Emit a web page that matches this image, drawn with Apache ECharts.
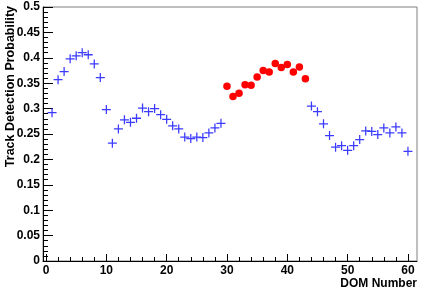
<!DOCTYPE html>
<html>
<head>
<meta charset="utf-8">
<script src="https://cdn.jsdelivr.net/npm/echarts@6/dist/echarts.min.js"></script>
<style>html,body{margin:0;padding:0;background:#fff}#c{width:424px;height:293px}</style>
</head>
<body>
<div id="c"></div>
<script>
// DOM numbers and track detection probabilities
var blueDomsA = [1,2,3,4,5,6,7,8,9,10,11,12,13,14,15,16,17,18,19,20,21,22,23,24,25,26,27,28,29];
var blueValsA = [0.292,0.357,0.373,0.398,0.404,0.410,0.406,0.388,0.361,0.298,0.232,0.260,0.278,0.273,0.281,0.301,0.294,0.300,0.288,0.279,0.266,0.260,0.244,0.241,0.244,0.243,0.252,0.262,0.271];
var redDoms = [30,31,32,33,34,35,36,37,38,39,40,41,42,43];
var redVals = [0.344,0.324,0.330,0.347,0.346,0.362,0.375,0.372,0.389,0.381,0.387,0.372,0.382,0.359];
var blueDomsB = [44,45,46,47,48,49,50,51,52,53,54,55,56,57,58,59,60];
var blueValsB = [0.305,0.294,0.270,0.247,0.224,0.227,0.218,0.227,0.239,0.256,0.255,0.249,0.262,0.252,0.264,0.252,0.216];
var xMajorTicks = [0,10,20,30,40,50,60];
var xMinorTicks = [2,4,6,8,12,14,16,18,22,24,26,28,32,34,36,38,42,44,46,48,52,54,56,58];
var xTitle = 'DOM Number';
var yTitle = 'Track Detection Probability';

function pairs(xs, ys){ return xs.map(function(x,i){ return [x, ys[i]]; }); }
var blueData = pairs(blueDomsA, blueValsA).concat(pairs(blueDomsB, blueValsB));
var redData = pairs(redDoms, redVals);

var FONT = '"Liberation Sans", Arial, Helvetica, sans-serif';
var chart = echarts.init(document.getElementById('c'), null, {renderer: 'canvas'});
var crossPath = 'path://M4.3,0h1.4v4.3h4.3v1.4h-4.3v4.3h-1.4v-4.3h-4.3v-1.4h4.3z';
chart.setOption({
  animation: false,
  grid: {left: 43, right: 7, top: 7, bottom: 32, show: true, borderColor: '#808080', borderWidth: 1, containLabel: false},
  xAxis: [{
    type: 'value', min: -0.5, max: 61.5, position: 'bottom',
    axisLine: {show: true, onZero: false, lineStyle: {color: '#000', width: 1}},
    axisTick: {show: true, inside: true, length: 7, customValues: xMajorTicks, lineStyle: {color: '#000'}},
    axisLabel: {show: true, customValues: xMajorTicks, color: '#000', fontFamily: FONT, fontWeight: 'bold', fontSize: 12, margin: 4},
    splitLine: {show: false}
  }, {
    type: 'value', min: -0.5, max: 61.5, position: 'bottom', offset: 0,
    axisLine: {show: false},
    axisTick: {show: true, inside: true, length: 4, customValues: xMinorTicks, lineStyle: {color: '#000'}},
    axisLabel: {show: false},
    splitLine: {show: false}
  }],
  yAxis: {
    type: 'value', min: 0, max: 0.5, interval: 0.05,
    axisLine: {show: true, onZero: false, lineStyle: {color: '#000', width: 1}},
    axisTick: {show: true, inside: true, length: 10, lineStyle: {color: '#000'}},
    minorTick: {show: true, splitNumber: 5, length: 5, lineStyle: {color: '#000'}},
    axisLabel: {color: '#000', fontFamily: FONT, fontWeight: 'bold', fontSize: 12, margin: 3,
      formatter: function(v){ return String(+v.toFixed(2)); }},
    splitLine: {show: false}
  },
  graphic: [
    {type: 'text', right: 7, top: 278, style: {text: xTitle, font: 'bold 12px ' + FONT, fill: '#000'}},
    {type: 'text', x: 4, y: 6, rotation: Math.PI/2, style: {text: yTitle, font: 'bold 12.5px ' + FONT, fill: '#000', align: 'right', verticalAlign: 'top'}}
  ],
  series: [{
    type: 'scatter', xAxisIndex: 0, data: blueData, symbol: crossPath, symbolSize: 9,
    itemStyle: {color: '#3b3bff', opacity: 1}, z: 3
  }, {
    type: 'scatter', xAxisIndex: 0, data: redData, symbol: 'circle', symbolSize: 7.5,
    itemStyle: {color: '#ff0000', opacity: 1}, z: 4
  }]
});
</script>
</body>
</html>
